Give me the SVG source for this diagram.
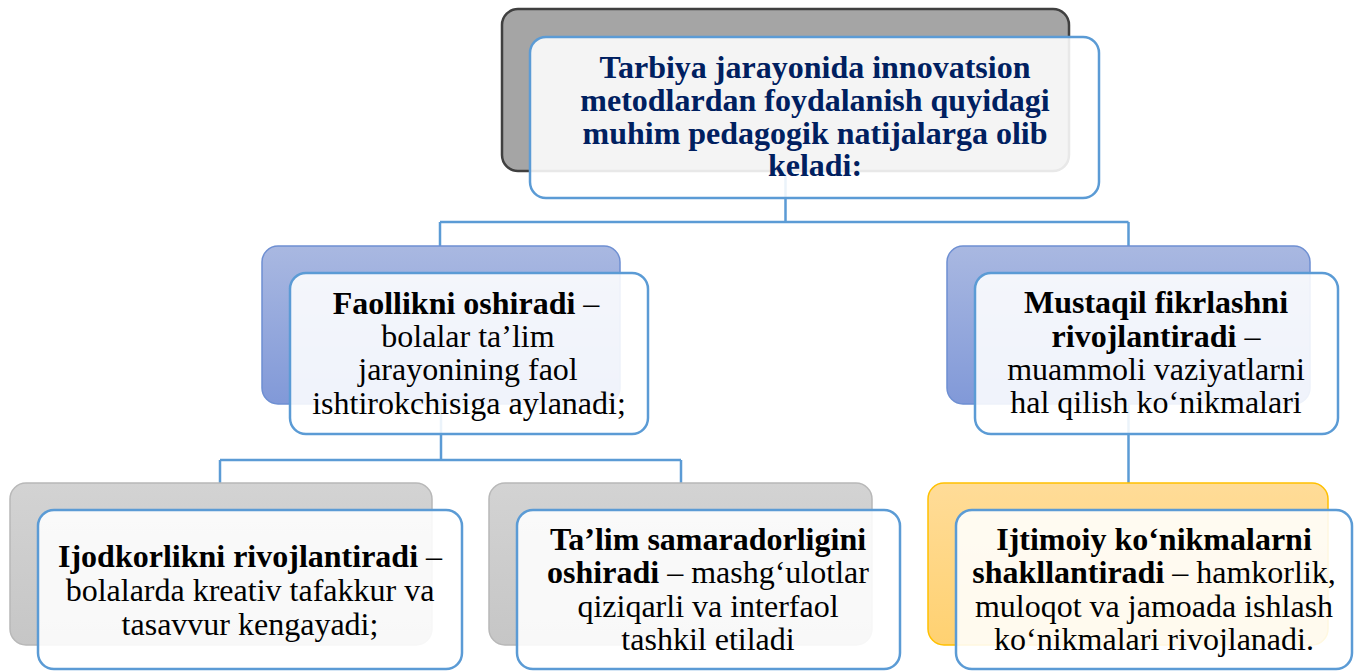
<svg xmlns="http://www.w3.org/2000/svg" width="1354" height="671" viewBox="0 0 1354 671">
<defs>
<linearGradient id="gBlue" x1="0" y1="0" x2="0" y2="1"><stop offset="0" stop-color="#a9b8e1"/><stop offset="1" stop-color="#8199d8"/></linearGradient>
<linearGradient id="gGray" x1="0" y1="0" x2="0" y2="1"><stop offset="0" stop-color="#d3d3d3"/><stop offset="1" stop-color="#c6c6c6"/></linearGradient>
<linearGradient id="gOrange" x1="0" y1="0" x2="0" y2="1"><stop offset="0" stop-color="#ffdc98"/><stop offset="1" stop-color="#ffd171"/></linearGradient>
</defs>
<style>
.front{fill:#ffffff;fill-opacity:0.88;stroke:#5b9bd5;stroke-width:2.5}
.backTop{fill:#a5a5a5;stroke:#404040;stroke-width:2.5}
.backBlue{fill:url(#gBlue);stroke:#6e8fd2;stroke-width:1.5}
.backGray{fill:url(#gGray);stroke:#b8b8b8;stroke-width:1.5}
.backOrange{fill:url(#gOrange);stroke:#ffc000;stroke-width:1.5}
.conn{fill:none;stroke:#5b9bd5;stroke-width:2.5}
text{font-family:"Liberation Serif","Times New Roman",serif;font-size:32px;text-anchor:middle;fill:#000}
.b{font-weight:bold}
.title{fill:#002060;font-weight:bold}
</style>
<g id="connectors">
<path class="conn" d="M785.5,171 V222 M440,222 H1128.5 M440,222 V246 M1128.5,222 V246"/>
<path class="conn" d="M441,404 V460 M220,460 H681 M220,460 V483 M681,460 V483"/>
<path class="conn" d="M1128.5,404 V483"/>
</g>
<g id="node-top">
<rect class="backTop" x="502" y="9" width="567" height="162" rx="16"/>
<rect class="front" x="530" y="37" width="569" height="161" rx="16"/>
<text class="title"><tspan x="815" y="78">Tarbiya jarayonida innovatsion</tspan><tspan x="815" y="111">metodlardan foydalanish quyidagi</tspan><tspan x="815" y="144">muhim pedagogik natijalarga olib</tspan><tspan x="815" y="176">keladi:</tspan></text>
</g>
<g id="node-faollik">
<rect class="backBlue" x="262" y="246" width="358" height="158" rx="16"/>
<rect class="front" x="290" y="273" width="358" height="161" rx="16"/>
<text><tspan x="466" y="314"><tspan class="b">Faollikni oshiradi</tspan> –</tspan><tspan x="468" y="347">bolalar ta’lim</tspan><tspan x="468" y="380">jarayonining faol</tspan><tspan x="469" y="414">ishtirokchisiga aylanadi;</tspan></text>
</g>
<g id="node-mustaqil">
<rect class="backBlue" x="947" y="246" width="363" height="158" rx="16"/>
<rect class="front" x="975" y="273" width="363" height="161" rx="16"/>
<text><tspan x="1156" y="313" class="b">Mustaqil fikrlashni</tspan><tspan x="1156" y="347"><tspan class="b">rivojlantiradi</tspan> –</tspan><tspan x="1156" y="380">muammoli vaziyatlarni</tspan><tspan x="1156" y="413">hal qilish ko‘nikmalari</tspan></text>
</g>
<g id="node-ijodkorlik">
<rect class="backGray" x="10" y="483" width="422" height="162" rx="16"/>
<rect class="front" x="38" y="510" width="424" height="159" rx="16"/>
<text><tspan x="250" y="567"><tspan class="b">Ijodkorlikni rivojlantiradi</tspan> –</tspan><tspan x="250" y="601">bolalarda kreativ tafakkur va</tspan><tspan x="250" y="635">tasavvur kengayadi;</tspan></text>
</g>
<g id="node-samaradorlik">
<rect class="backGray" x="489" y="483" width="383" height="162" rx="16"/>
<rect class="front" x="517" y="510" width="383" height="159" rx="16"/>
<text><tspan x="708" y="550" class="b">Ta’lim samaradorligini</tspan><tspan x="708" y="583"><tspan class="b">oshiradi</tspan> – mashg‘ulotlar</tspan><tspan x="708" y="617">qiziqarli va interfaol</tspan><tspan x="708" y="650">tashkil etiladi</tspan></text>
</g>
<g id="node-ijtimoiy">
<rect class="backOrange" x="928" y="483" width="400" height="162" rx="16"/>
<rect class="front" x="956" y="510" width="396" height="159" rx="16"/>
<text><tspan x="1154" y="550" class="b">Ijtimoiy ko‘nikmalarni</tspan><tspan x="1154" y="583"><tspan class="b">shakllantiradi</tspan> – hamkorlik,</tspan><tspan x="1154" y="617">muloqot va jamoada ishlash</tspan><tspan x="1154" y="650">ko‘nikmalari rivojlanadi.</tspan></text>
</g>
</svg>
